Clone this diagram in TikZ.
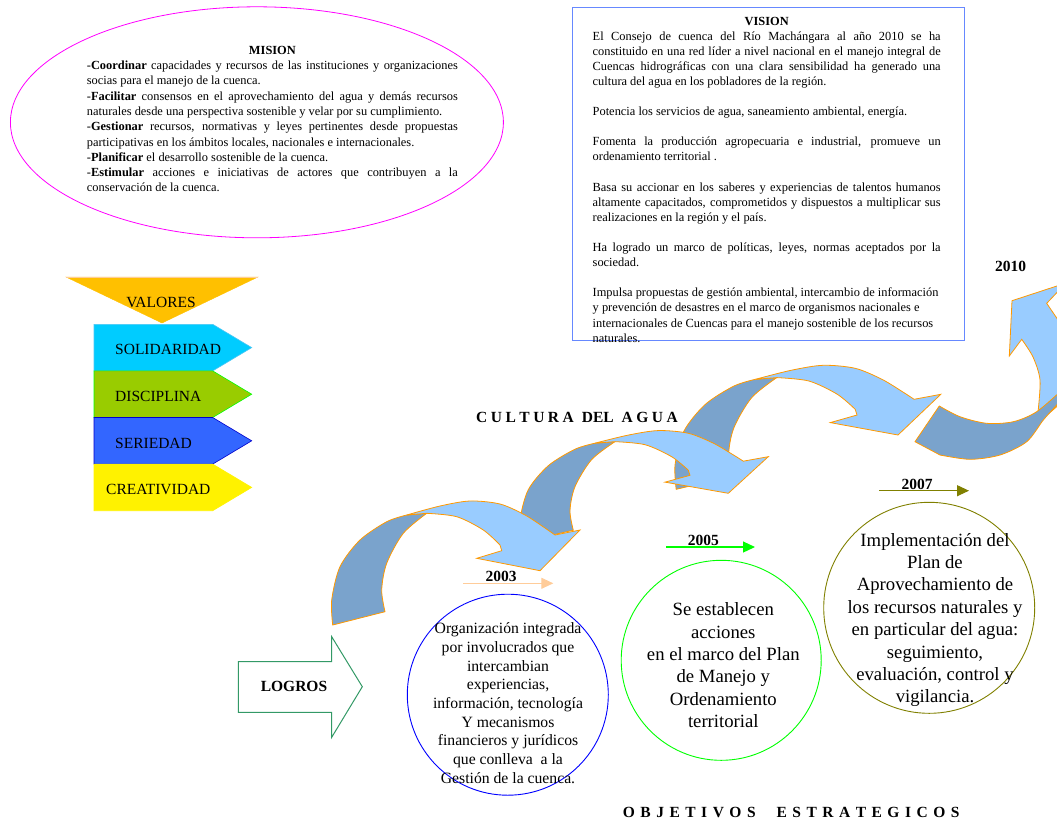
\documentclass[tikz,border=0pt]{standalone}
\usepackage{fontspec}
\setmainfont{Liberation Serif}
\usetikzlibrary{arrows.meta,shapes.geometric}
\setlength{\parindent}{0pt}
\hyphenpenalty=10000
\exhyphenpenalty=10000
\tolerance=3000
\emergencystretch=10pt

\definecolor{arrowlight}{RGB}{153,204,255}
\definecolor{arrowdark}{RGB}{122,163,204}
\definecolor{arrowline}{RGB}{255,153,0}
\definecolor{misionpink}{RGB}{255,0,255}
\definecolor{visionblue}{RGB}{102,136,255}
\definecolor{valorgold}{RGB}{255,192,0}
\definecolor{valoredge}{RGB}{255,204,153}
\definecolor{solcyan}{RGB}{0,204,255}
\definecolor{discgreen}{RGB}{153,204,0}
\definecolor{serblue}{RGB}{51,102,255}
\definecolor{seredge}{RGB}{0,0,204}
\definecolor{brightgreen}{RGB}{0,255,0}
\definecolor{logrogreen}{RGB}{51,153,102}
\definecolor{peach}{RGB}{255,204,153}
\definecolor{olivey}{RGB}{128,128,0}

\newcommand\txtbody{\fontsize{12.4}{15.3}\selectfont\spaceskip=3.1pt plus 3pt minus 0.1pt\relax}
\newcommand\txtvision{\fontsize{12.4}{15.1}\selectfont\spaceskip=3.1pt plus 4pt minus 0.5pt\relax}
\newcommand\txtlabel{\fontsize{15.5}{18.6}\selectfont}
\newcommand\txtsmallcirc{\fontsize{15.7}{18.67}\selectfont}
\newcommand\txtbigcirc{\fontsize{18.7}{22.35}\selectfont}

\tikzset{
  wavearrow/.pic={
    % underside of the band
    \filldraw[arrowback]
      plot[smooth] coordinates {(-207.3,54.3) (-208.3,29.3) (-200,-4) (-180,-30.7) (-153.3,-49) (-133.3,-55.7)}
      -- plot[smooth] coordinates {(-113.3,-57.4) (-136.7,-37.4) (-153.3,-7.4) (-158.3,19.3) (-155,41)}
      -- cycle;
    % top of the band with the head
    \filldraw[arrowtop]
      plot[smooth] coordinates {(-133.3,-55.7) (-100,-64.7) (-70,-69.7) (-40,-66.7) (-15,-55.7) (5,-42.7) (15,-35.7)}
      -- (40,-40.7) -- (0,0) -- (-63.3,-12.4) -- (-38.3,-20)
      -- plot[smooth] coordinates {(-40,-25.7) (-56.7,-40.7) (-83.3,-54) (-113.3,-57.4)}
      -- cycle;
  }
}

\begin{document}
\begin{tikzpicture}[x=1pt,y=-1pt,
  arrowtop/.style={fill=arrowlight,draw=arrowline,line width=0.8pt},
  arrowback/.style={fill=arrowdark,draw=arrowline,line width=0.8pt},
  yeararrow/.style={-{Triangle[length=12pt,width=11pt]},line width=1.2pt},
  yearlabel/.style={font=\txtlabel\bfseries,inner sep=0,anchor=base},
  valtext/.style={font=\txtlabel,inner sep=0},
  circtext/.style={align=center,inner sep=0}]
\useasboundingbox (0,0) rectangle (1057,823);

% mision
\node[draw=misionpink, ellipse, line width=0.8pt, minimum width=493pt, minimum height=231pt, inner sep=0] (misionoval) at (256.9,122.3) {};
\node[anchor=north, text width=371pt, align=justify, inner sep=0, font=\txtbody] (misiontxt) at (272.4,45.8) {{\centering\textbf{MISION}\par}
-\textbf{Coordinar} capacidades y recursos de las instituciones y organizaciones socias para el manejo de la cuenca.\par
-\textbf{Facilitar} consensos en el aprovechamiento del agua y demás recursos naturales desde una perspectiva sostenible y velar por su cumplimiento.\par
-\textbf{Gestionar} recursos, normativas y leyes pertinentes desde propuestas participativas en los ámbitos locales, nacionales e internacionales.\par
-\textbf{Planificar} el desarrollo sostenible de la cuenca.\par
-\textbf{Estimular} acciones e iniciativas de actores que contribuyen a la conservación de la cuenca.};

% vision
\node[draw=visionblue, line width=1pt, minimum width=392pt, minimum height=333pt, inner sep=0, anchor=north west] (visionbox) at (571.7,6.7) {};
\node[anchor=north, text width=348pt, align=justify, inner sep=0, font=\txtvision] (visiontxt) at (766.7,16.6) {{\centering\textbf{VISION}\par}
El Consejo de cuenca del Río Machángara al año 2010 se ha\linebreak constituido en una red líder a nivel nacional en el manejo integral de\linebreak Cuencas hidrográficas con una clara sensibilidad ha generado una\linebreak cultura del agua en los pobladores de la región.\par\vspace{15.1pt}
Potencia los servicios de agua, saneamiento ambiental, energía.\par\vspace{15.1pt}
Fomenta la producción agropecuaria e industrial, promueve un ordenamiento territorial~.\par\vspace{15.1pt}
Basa su accionar en los saberes y experiencias de talentos humanos altamente capacitados, comprometidos y dispuestos a multiplicar sus realizaciones en la región y el país.\par\vspace{15.1pt}
Ha logrado un marco de políticas, leyes, normas aceptados por la sociedad.\par\vspace{15.1pt}
Impulsa propuestas de gestión ambiental, intercambio de información\newline y prevención de desastres en el marco de organismos nacionales e\newline internacionales de Cuencas para el manejo sostenible de los recursos\newline naturales.};

% valores
\filldraw[fill=valorgold, draw=valorgold] (66,277) -- (258,277) -- (162,323) -- cycle;
\draw[valoredge, line width=1pt] (66,277) -- (258,277);
\node[valtext] (valores) at (161,302.7) {VALORES};
\foreach \vname/\ytop/\fc/\dc/\tx in {SOLIDARIDAD/324.3/solcyan/cyan!70/115, DISCIPLINA/370.9/discgreen/brightgreen/115, SERIEDAD/417.5/serblue/seredge/115, CREATIVIDAD/464.1/yellow/yellow/106}{
  \filldraw[fill=\fc, draw=\dc, line width=0.6pt] (94,\ytop) -- (212.7,\ytop) -- (251.7,\ytop+23.3) -- (212.7,\ytop+46.6) -- (94,\ytop+46.6) -- cycle;
  \node[valtext, anchor=west] (\vname) at (\tx,\ytop+25.6) {\vname};
}

% logros
\draw[logrogreen, line width=1pt] (238.3,661.7) -- (331.7,661.7) -- (331.7,636.7) -- (362.3,686.7) -- (331.7,737.3) -- (331.7,712.3) -- (238.3,712.3) -- cycle;
\node[font=\txtlabel\bfseries, inner sep=0] (logros) at (294,686) {LOGROS};

% cultura del agua: curved arrows
\filldraw[arrowtop] plot[smooth] coordinates {(1038,412) (1040,380) (1033,357) (1021.7,339.3)} -- (1009.3,356) -- (1012,300.7) -- (1066,283) -- (1046.7,303.3)
  -- plot[smooth] coordinates {(1056.7,318) (1066,340) (1070,370) (1064,398) (1048,414)} -- cycle;
\filldraw[arrowback] (915,441.7) -- plot[smooth] coordinates {(939.3,406) (960,416.7) (986.7,423.3) (1013.3,421.7) (1036.7,411.7) (1062,390)}
  -- plot[smooth] coordinates {(1064,396) (1056.7,405) (1043.3,420) (1026.7,441.7) (1000,455) (970,459.3) (940,455)} -- cycle;
\pic[xscale=1.07] (wave3) at (898,435) {wavearrow};
\pic[yscale=0.9] (wave2) at (728.3,493.3) {wavearrow};
\pic (wave1) at (540,570.7) {wavearrow};

\node[font=\txtlabel\bfseries, anchor=base west, inner sep=0] (cultura) at (476,422.2) {\spaceskip=3.5pt C U L T U R A\hspace{8pt}DEL\hspace{8pt}A G U A};

% years
\coordinate (a2003s) at (463.3,583.3);
\coordinate (a2003e) at (553.3,583.3);
\draw[yeararrow, peach, line width=1pt] (a2003s) -- (a2003e);
\node[yearlabel] (y2003) at (501,581.5) {2003};

\coordinate (a2005s) at (666,547);
\coordinate (a2005e) at (755,547);
\draw[yeararrow, brightgreen] (a2005s) -- (a2005e);
\node[yearlabel] (y2005) at (703.3,545.5) {2005};

\coordinate (a2007s) at (879.3,490.7);
\coordinate (a2007e) at (969,490.7);
\draw[yeararrow, olivey] (a2007s) -- (a2007e);
\node[yearlabel] (y2007) at (917,489.5) {2007};

\node[yearlabel] (y2010) at (1010.7,271) {2010};

% logros circles
\node[circle, draw=blue, line width=0.9pt, minimum size=201pt, inner sep=0] (c2003) at (507.8,694.7) {};
\node[circtext, font=\txtsmallcirc] (t2003) at (508,703) {Organización integrada\\por involucrados que\\intercambian\\experiencias,\\información, tecnología\\Y mecanismos\\financieros y jurídicos\\que conlleva~ a la\\Gestión de la cuenca.};

\node[circle, draw=brightgreen, line width=0.9pt, minimum size=200pt, inner sep=0] (c2005) at (721.2,660.3) {};
\node[circtext, font=\txtbigcirc] (t2005) at (723.3,665.3) {Se establecen\\acciones\\en el marco del Plan\\de Manejo y\\Ordenamiento\\territorial};

\node[circle, draw=olivey, line width=0.9pt, minimum size=211pt, inner sep=0] (c2007) at (929.2,607.8) {};
\node[circtext, font=\txtbigcirc] (t2007) at (935,620) {Implementación del\\Plan de\\Aprovechamiento de\\los recursos naturales y\\en particular del agua:\\seguimiento,\\evaluación, control y\\vigilancia.};

\node[font=\txtlabel\bfseries, anchor=base west, inner sep=0] (objetivos) at (622.7,817) {\spaceskip=5.5pt O B J E T I V O S\hspace{21pt}E S T R A T E G I C O S};
\end{tikzpicture}
\end{document}
